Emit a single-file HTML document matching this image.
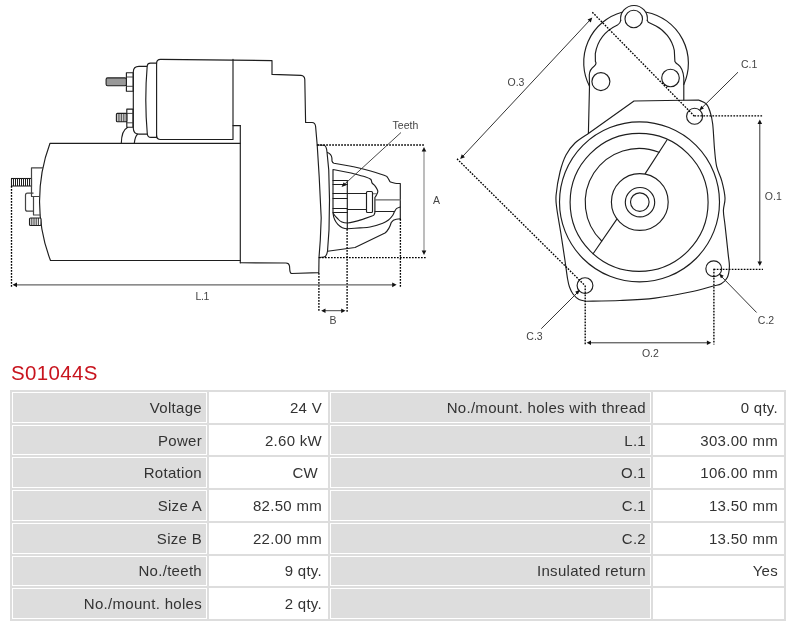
<!DOCTYPE html>
<html><head><meta charset="utf-8">
<style>
html,body{margin:0;padding:0;background:#fff;}
body{width:800px;height:627px;position:relative;overflow:hidden;font-family:"Liberation Sans",sans-serif;}
svg{position:absolute;left:0;top:0;}
svg,h1,.grid{will-change:transform;}
.t{font-family:"Liberation Sans",sans-serif;font-size:10.5px;fill:#444;}
h1{position:absolute;left:11px;top:361px;margin:0;font-weight:normal;font-size:20.5px;line-height:24px;color:#c8141e;letter-spacing:0.35px;}
.grid{position:absolute;left:10px;top:390px;width:772px;display:grid;grid-template-columns:195px 119px 321px 131px;grid-template-rows:repeat(7,30.714px);gap:2px;padding:2px;background:#ddd;}
.grid div{border:1px solid #fff;display:flex;align-items:center;justify-content:flex-end;font-size:15px;color:#333;white-space:nowrap;letter-spacing:0.3px;}
.grid .l{background:#ddd;padding-right:4px;}
.grid .v{background:#fff;padding-right:5px;}
.grid .cw{padding-right:9px;}
</style></head><body>
<svg width="800" height="360" viewBox="0 0 800 360">
<g fill="none" stroke="#1e1e1e" stroke-width="1.15" stroke-linejoin="round" stroke-linecap="round">
<!-- motor yoke -->
<path d="M240.3,143.3 L50,143.3 A165.75 165.75 0 0 0 50.5,260.5 L240.3,260.5"/>
<path d="M240.3,125.6 L240.3,262.8"/>
<path d="M233,125.6 L240.3,125.6"/>
<!-- solenoid body + drive end housing outline -->
<path d="M156.6,137 L156.6,63.4 Q156.6,59.4 160.6,59.4 L272,60.6 L272,74.4 L301,75.4 Q304.6,75.8 304.8,79.5 L305.6,122.5 L312,122.5 Q315.3,122.7 315.6,126.5 L317.2,145 L319.2,177 L321.2,218 L320.3,240 L319,257.5 L318.8,272.6 L291.5,273.5 Q290,273.2 289.8,270 L289.5,266 Q289,263 286,263 L240.3,262.8"/>
<path d="M156.6,135.5 Q156.6,139.5 160.6,139.5 L233,139.5 L233,59.4"/>
<!-- flange ring -->
<path d="M156.6,63.1 L150.5,63.1 Q147.5,63.1 147.2,66 C145.6,85 145.2,110 147.3,134 Q147.8,137.4 151,137.4 L156.6,137.4"/>
<!-- cap -->
<path d="M146.7,66.4 L139,66.4 Q133.3,66.4 133.3,72 L133.3,128 Q133.3,134.1 139,134.1 L147.3,134.1"/>
<!-- nuts -->
<rect x="126.4" y="72.7" width="6.8" height="18.5"/>
<path d="M126.4,77 L133.2,77 M126.4,86.3 L133.2,86.3" stroke="#333" stroke-width="0.9"/>
<rect x="126.8" y="109.1" width="6.2" height="18.1"/>
<path d="M126.8,113.4 L133,113.4 M126.8,122.8 L133,122.8" stroke="#333" stroke-width="0.9"/>
<!-- bracket arcs -->
<path d="M121.3,143.3 C121.5,134 124,129 127.5,127.4"/>
<path d="M134.3,143.3 C134.8,139 135.5,136 137.5,134.3"/>
</g>
<!-- studs -->
<rect x="106.1" y="77.9" width="20.3" height="7.8" rx="1.5" fill="#999" stroke="#1e1e1e" stroke-width="1.1"/>
<g stroke="#1e1e1e" stroke-width="1.1" fill="#fff">
<rect x="116.4" y="113.4" width="10.4" height="8.4" rx="1"/>
<rect x="11.5" y="178.5" width="20" height="7.5"/>
<rect x="29.5" y="218" width="11.5" height="7.5" rx="1"/>
</g>
<g stroke="#1e1e1e" stroke-width="0.8">
<path d="M118.2,113.4V121.8M119.9,113.4V121.8M121.6,113.4V121.8M123.3,113.4V121.8M125,113.4V121.8"/>
<path d="M13.5,178.5V186M15.5,178.5V186M17.5,178.5V186M19.5,178.5V186M21.5,178.5V186M23.5,178.5V186M25.5,178.5V186M27.5,178.5V186M29.5,178.5V186" stroke-width="1"/>
<path d="M31.3,218V225.5M33.1,218V225.5M34.9,218V225.5M36.7,218V225.5M38.5,218V225.5"/>
</g>
<!-- left end bracket -->
<g fill="none" stroke="#444" stroke-width="1.2" stroke-linejoin="round">
<path d="M43,167.8 L31.5,167.8 L31.5,196.5 L40,196.5"/>
<path d="M33.5,196.5 L33.5,215 L40.5,215"/>
<path d="M33.5,193.2 L27.5,193.2 Q25.5,193.2 25.5,195.2 L25.5,209.2 Q25.5,211.2 27.5,211.2 L33.5,211.2"/>
</g>
<!-- drive end nose -->
<g fill="none" stroke="#1e1e1e" stroke-width="1.15" stroke-linejoin="round" stroke-linecap="round">
<path d="M317.2,145 L324,145.3 Q326.5,146 327,152 L328.75,170 L329.5,200 L329,230 L327.5,251.25 Q326.5,256.8 324,257 L319,257.5"/>
<path d="M327.5,152.5 C330,153.5 331.5,155 331.9,158 L332,161 Q332.5,162.7 334,163.2 L351.00,166.20 C353.33,166.75 359.48,168.00 365.00,169.50 C370.52,171.00 380.38,173.93 384.10,175.20 C387.82,176.47 386.45,176.25 387.30,177.10 C388.15,177.95 388.67,179.47 389.20,180.30 C389.73,181.13 389.53,181.62 390.50,182.10 C391.47,182.58 393.37,182.95 395.00,183.20 C396.63,183.45 399.42,183.53 400.30,183.60 L400.3,219.5"/>
<path d="M327.5,251.25 L355,247.5 L385,233 Q389,230 391.25,222.5 Q393,219.6 396.25,219.2 L400.3,218.75"/>
<path d="M333,213 L333,169.5 L351.00,173.00 C353.33,173.63 361.72,175.75 365.00,176.80 C368.28,177.85 369.53,178.28 370.70,179.30 C371.87,180.32 371.35,181.88 372.00,182.90 C372.65,183.92 373.75,184.35 374.60,185.40 C375.45,186.45 376.57,188.13 377.10,189.20 C377.63,190.27 377.90,190.83 377.80,191.80 C377.70,192.77 376.98,194.05 376.50,195.00 C376.02,195.95 375.17,197.08 374.90,197.50 L374.9,212.5 Q374.5,215.5 372,216 L362.5,219.4 Q352,222.7 347.5,223 Q341,223 338,219 Q334,215 333,213"/>
<path d="M333.1,213.75 C334,222 340,228.75 347.5,228.75 C349.58,228.61 356.25,228.19 360.00,227.90 C363.75,227.61 366.21,227.78 370.00,227.00 C373.79,226.22 379.67,224.37 382.75,223.20 C385.83,222.03 386.86,221.28 388.50,220.00 C390.14,218.72 391.58,216.93 392.60,215.50 C393.62,214.07 393.90,212.58 394.60,211.40 C395.30,210.22 395.85,209.13 396.80,208.40 C397.75,207.67 399.72,207.23 400.30,207.00"/>
<path d="M347.3,180.5 L347.3,228.75"/>
<path d="M333,180.5H347.3M333,184.5H347.3M333,193.5H347.3M333,198.5H347.3M333,208.5H347.3M333,212.5H347.3"/>
<path d="M347.3,193.5H366.5M347.3,209.5H366.5M375,211.5H394.6" stroke="#222"/><path d="M375,199.9H400.3M372.5,193.7H376.5" stroke="#666"/>
<rect x="366.5" y="191.5" width="6" height="21" rx="1"/>
</g>
<!-- dimension lines side view -->
<g fill="none" stroke="#000" stroke-width="1.35" stroke-dasharray="1.7 1.3">
<path d="M317.2,145 H425"/>
<path d="M319,257.6 H426"/>
<path d="M400.4,219 V287"/>
<path d="M347.1,229 V312"/>
<path d="M318.9,273 V312"/>
<path d="M11.5,186 V287"/>
</g>
<g stroke="#666" stroke-width="1.3" fill="none">
<path d="M16,284.8 H393"/>
<path d="M424,150 V252" stroke="#999"/>
<path d="M324,310.7 H343" stroke="#444" stroke-width="1"/>
<path d="M401,132.5 L343.5,185.2" stroke="#333" stroke-width="0.9"/>
</g>
<g fill="#111" stroke="none">
<path d="M12.5,284.8 L17,282.4 L17,287.2Z"/>
<path d="M396.6,284.8 L392.2,282.4 L392.2,287.2Z"/>
<path d="M424,147 L421.7,151.5 L426.3,151.5Z"/>
<path d="M424,255 L421.7,250.5 L426.3,250.5Z"/>
<path d="M321.2,310.7 L325.5,308.4 L325.5,313Z"/>
<path d="M345.5,310.7 L341.2,308.4 L341.2,313Z"/>
<path d="M341.50,187.00 L343.76,182.36 L346.32,185.16Z"/>
</g>
<text class="t" x="392.6" y="129">Teeth</text>
<text class="t" x="433" y="203.5">A</text>
<text class="t" x="195.5" y="299.5" letter-spacing="-0.4">L.1</text>
<text class="t" x="329.5" y="323.5">B</text>

<!-- FRONT VIEW -->
<g fill="none" stroke="#1e1e1e" stroke-width="1.15" stroke-linejoin="round" stroke-linecap="round">
<!-- solenoid end outer arc with lug -->
<path d="M589.5,86.2 A52 52 0 0 1 622,12.2"/>
<path d="M646.4,12.2 A52 52 0 0 1 683.8,84.6"/>
<path d="M620.7,20.5 A13.4 13.4 0 1 1 647.3,20.5"/>
<path d="M620.7,20.5 C620.3,23 619,24.2 617.5,25 C609,29 598,37 595.3,53.7 L595.4,61.4 Q597,64 594.1,66.2 Q589.5,69.5 589.3,75 L589.5,86"/>
<path d="M647.3,20.5 L648.3,22.3 L656,25.9 C664,30 672,39 674.3,50.4 L674.9,61.5 Q676,63.5 678,64.5 Q683,68 683.8,78 L683.8,100"/>
<path d="M589.5,86 L588.4,133.5"/>
<circle cx="633.75" cy="19" r="8.75"/>
<circle cx="600.9" cy="81.6" r="9"/>
<circle cx="670.5" cy="78" r="8.8"/>
<!-- mounting flange -->
<path d="M634,101 L698.5,100 C699.75,100.62 704.08,101.78 706.00,103.70 C707.92,105.62 708.88,108.12 710.00,111.50 C711.12,114.88 711.93,117.58 712.70,124.00 C713.47,130.42 713.93,142.88 714.60,150.00 C715.27,157.12 715.48,161.48 716.70,166.70 C717.92,171.92 720.52,176.08 721.90,181.30 C723.28,186.52 724.75,193.13 725.00,198.00 C725.25,202.87 723.40,206.00 723.40,210.50 C723.40,215.00 724.20,217.68 725.00,225.00 C725.80,232.32 727.47,247.48 728.20,254.40 C728.93,261.32 729.55,262.65 729.40,266.50 C729.25,270.35 728.66,274.62 727.30,277.50 C725.94,280.38 723.72,282.29 721.25,283.75 C718.78,285.21 717.71,284.88 712.50,286.25 C707.29,287.62 699.58,290.02 690.00,292.00 C680.42,293.98 666.67,296.68 655.00,298.10 C643.33,299.52 631.46,299.98 620.00,300.50 C608.54,301.02 591.88,301.12 586.25,301.25 C585.04,300.96 581.21,300.71 579.00,299.50 C576.79,298.29 574.58,296.08 573.00,294.00 C571.42,291.92 570.40,289.50 569.50,287.00 C568.60,284.50 568.37,283.50 567.60,279.00 C566.83,274.50 566.03,267.67 564.90,260.00 C563.77,252.33 562.15,241.58 560.80,233.00 C559.45,224.42 557.58,214.83 556.80,208.50 C556.02,202.17 555.57,201.08 556.10,195.00 C556.63,188.92 558.35,178.67 560.00,172.00 C561.65,165.33 563.50,159.83 566.00,155.00 C568.50,150.17 571.27,146.58 575.00,143.00 C578.73,139.42 586.17,135.08 588.40,133.50 Z"/>
<circle cx="694.6" cy="116.2" r="8"/>
<circle cx="585" cy="285.6" r="7.9"/>
<circle cx="713.75" cy="268.7" r="7.9"/>
<!-- concentric -->
<circle cx="639.5" cy="201.9" r="80"/>
<circle cx="639.1" cy="202.35" r="69"/>
<path d="M659,152.3 A53.8 53.8 0 0 0 601.7,241"/>
<path d="M645.2,173.6 L666.8,140.2"/>
<path d="M616.7,219.4 L593.1,253.75"/>
<circle cx="639.8" cy="202" r="28.4"/>
<circle cx="640" cy="202.2" r="14.7"/>
<circle cx="639.8" cy="202.1" r="9.3"/>
</g>
<!-- front view dims -->
<g fill="none" stroke="#000" stroke-width="1.35" stroke-dasharray="1.7 1.3">
<path d="M592.3,12.2 L694.4,116.2"/>
<path d="M457,158.8 L585,285.6"/>
<path d="M694.4,115.9 H763"/>
<path d="M713.75,269.4 H763"/>
<path d="M585.2,285.6 V344.6"/>
<path d="M713.9,268.7 V344.6"/>
</g>
<g fill="none" stroke="#333" stroke-width="1">
<path d="M462.5,156.6 L590,20"/>
<path d="M759.8,123 V262"/>
<path d="M590,342.8 H708"/>
<path d="M738,72.2 L701,108.7"/>
<path d="M756.6,312.5 L721,276"/>
<path d="M541.25,328.7 L578,292"/>
</g>
<g fill="#111" stroke="none">
<path d="M592.30,17.60 L590.77,22.46 L587.55,19.46Z"/>
<path d="M460.20,159.10 L461.73,154.24 L464.95,157.24Z"/>
<path d="M759.8,119.5 L757.5,124 L762.1,124Z"/>
<path d="M759.8,266 L757.5,261.5 L762.1,261.5Z"/>
<path d="M586.6,342.8 L591,340.5 L591,345.1Z"/>
<path d="M711.3,342.8 L706.9,340.5 L706.9,345.1Z"/>
<path d="M699.20,110.50 L701.28,105.78 L703.95,108.48Z"/>
<path d="M719.00,273.60 L723.70,275.73 L720.97,278.37Z"/>
<path d="M579.90,289.80 L577.86,294.54 L575.17,291.87Z"/>
</g>
<text class="t" x="507.5" y="86.3">O.3</text>
<text class="t" x="741" y="68">C.1</text>
<text class="t" x="764.8" y="199.6">O.1</text>
<text class="t" x="757.8" y="324">C.2</text>
<text class="t" x="526.3" y="340">C.3</text>
<text class="t" x="641.9" y="356.8">O.2</text>
</svg>
<h1>S01044S</h1>
<div class="grid">
<div class="l">Voltage</div><div class="v">24 V</div><div class="l">No./mount. holes with thread</div><div class="v">0 qty.</div>
<div class="l">Power</div><div class="v">2.60 kW</div><div class="l">L.1</div><div class="v">303.00 mm</div>
<div class="l">Rotation</div><div class="v cw">CW</div><div class="l">O.1</div><div class="v">106.00 mm</div>
<div class="l">Size A</div><div class="v">82.50 mm</div><div class="l">C.1</div><div class="v">13.50 mm</div>
<div class="l">Size B</div><div class="v">22.00 mm</div><div class="l">C.2</div><div class="v">13.50 mm</div>
<div class="l">No./teeth</div><div class="v">9 qty.</div><div class="l">Insulated return</div><div class="v">Yes</div>
<div class="l">No./mount. holes</div><div class="v">2 qty.</div><div class="l"></div><div class="v"></div>
</div>
</body></html>
